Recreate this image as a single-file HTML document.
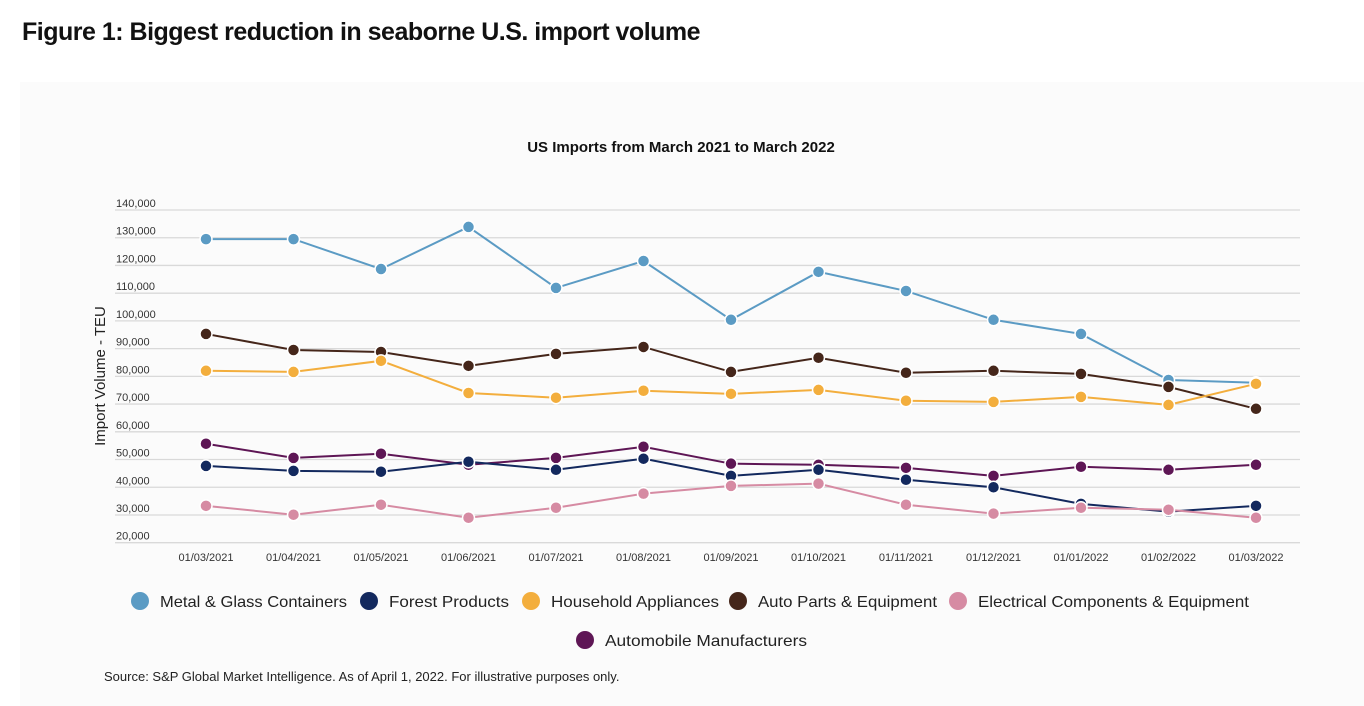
<!DOCTYPE html>
<html><head><meta charset="utf-8"><style>
body{margin:0;width:1364px;height:706px;background:#fff;font-family:"Liberation Sans",sans-serif;overflow:hidden;position:relative}
#title{position:absolute;left:22px;top:18px;font-size:25px;font-weight:bold;color:#111;letter-spacing:-0.5px}
#panel{position:absolute;left:20px;top:82px;width:1344px;height:624px;background:#fbfbfb}
svg{position:absolute;left:0;top:0}
</style></head><body>
<div id="title">Figure 1: Biggest reduction in seaborne U.S. import volume</div>
<div id="panel"></div>
<svg id="chart" width="1364" height="706"></svg>
<script>
const categories=["01/03/2021","01/04/2021","01/05/2021","01/06/2021","01/07/2021","01/08/2021","01/09/2021","01/10/2021","01/11/2021","01/12/2021","01/01/2022","01/02/2022","01/03/2022"];
const yTicks=[20000,30000,40000,50000,60000,70000,80000,90000,100000,110000,120000,130000,140000];
const seriesNames=["Metal & Glass Containers","Forest Products","Household Appliances","Auto Parts & Equipment","Electrical Components & Equipment","Automobile Manufacturers"];
const seriesColors=["#5b9bc4","#13295e","#f3ae3d","#45261a","#d68ba3","#5e1655"];
const metal=[129500,129500,118700,133900,111900,121600,100400,117700,110800,100400,95300,78700,77700];
const forest=[47700,45900,45600,49200,46300,50300,44100,46300,42700,40000,34000,31200,33300];
const household=[82000,81600,85600,74000,72300,74800,73700,75100,71200,70800,72600,69700,77300];
const autoParts=[95300,89500,88800,83800,88100,90600,81600,86700,81300,82000,80900,76200,68300];
const electrical=[33300,30100,33700,29000,32600,37700,40500,41300,33700,30500,32600,31900,29000];
const automobile=[55700,50600,52100,48100,50600,54600,48500,48100,47000,44100,47400,46300,48100];
const seriesData=[metal,forest,household,autoParts,electrical,automobile];
const drawOrder=[0,3,2,5,1,4];
const NS="http://www.w3.org/2000/svg";
const svg=document.getElementById('chart');
const X0=206,DX=87.5,Y0=542.7,YMIN=20000,PPU=332.7/120000;
const x=i=>X0+i*DX;
const y=v=>Y0-(v-YMIN)*PPU;
function mk(t,a){const e=document.createElementNS(NS,t);for(const k in a)e.setAttribute(k,a[k]);svg.appendChild(e);return e;}
let t=mk('text',{x:681,y:152,'text-anchor':'middle','font-size':15,'font-weight':'bold',fill:'#111'});t.textContent="US Imports from March 2021 to March 2022";


yTicks.forEach(v=>{
 const g=mk('line',{x1:115,x2:1300,y1:y(v),y2:y(v),stroke:'#d9d9d9','stroke-width':1.3});
 
 
 const l=mk('text',{x:116,y:y(v)-3,'font-size':11,fill:'#333'});l.textContent=v.toLocaleString('en-US');
 
 
});
let yt=mk('text',{transform:'rotate(-90) translate(-376,105)','text-anchor':'middle','font-size':15,fill:'#222'});yt.textContent="Import Volume - TEU";


categories.forEach((c,i)=>{const l=mk('text',{x:x(i),y:561,'text-anchor':'middle','font-size':11,fill:'#333'});l.textContent=c;
 
 });
drawOrder.forEach(s=>{
 const d=seriesData[s].map((v,i)=>(i?'L':'M')+x(i)+' '+y(v)).join(' ');
 const p=mk('path',{d:d,fill:'none',stroke:seriesColors[s],'stroke-width':2});
 
 
 seriesData[s].forEach((v,i)=>{const c=mk('circle',{cx:x(i),cy:y(v),r:6,fill:seriesColors[s],stroke:'#fff','stroke-width':1.5});
  
  });
});
const legendPos=[[140,601,187],[369,601,120],[531,601,168],[738,601,179],[958,601,271],[585,640,202]];
seriesNames.forEach((n,s)=>{
 const c=mk('circle',{cx:legendPos[s][0],cy:legendPos[s][1],r:9,fill:seriesColors[s]});
 
 
 const l=mk('text',{x:legendPos[s][0]+20,y:legendPos[s][1]+6,'font-size':16,fill:'#222',textLength:legendPos[s][2],lengthAdjust:'spacingAndGlyphs'});l.textContent=n;
 
 
});
let src=mk('text',{x:104,y:681,'font-size':13,fill:'#222'});src.textContent="Source: S&P Global Market Intelligence. As of April 1, 2022. For illustrative purposes only.";


</script>
</body></html>
